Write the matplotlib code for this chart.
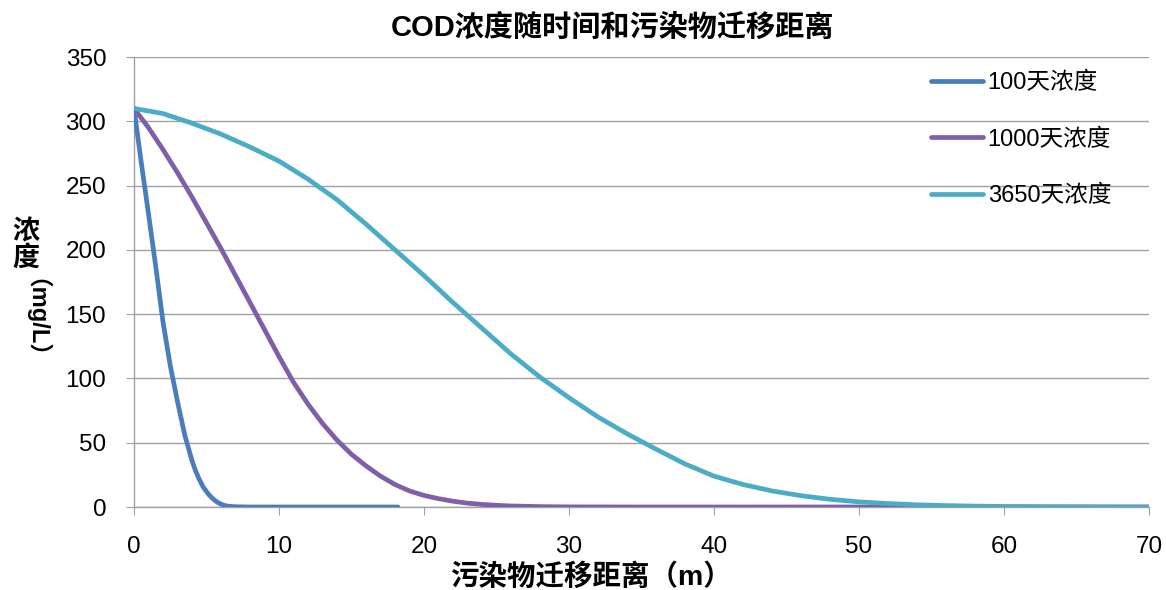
import matplotlib
matplotlib.use('Agg')
import matplotlib.pyplot as plt

plt.rcParams['font.family'] = ['Liberation Sans', 'Noto Sans CJK SC', 'DejaVu Sans']

# distances (m) and concentrations (mg/L)
x_100 = [0, 0.5, 1, 1.5, 2, 2.5, 3, 3.5, 4, 4.25, 4.5, 4.75, 5, 5.25, 5.5, 5.75, 6, 6.25,
         6.5, 7, 8, 10, 12, 14, 16, 18.2]
c_100 = [310, 268, 228, 187, 144, 110, 82, 56, 36, 28, 21.5, 16, 12, 8.5, 5.8, 3.7, 2.2,
         1.2, 0.6, 0.2, 0, 0, 0, 0, 0, 0]

x_1000 = [0, 1, 2, 3, 4, 5, 6, 7, 8, 9, 10, 11, 12, 13, 14, 15, 16, 17, 18, 19, 20,
          21, 22, 23, 24, 25, 26, 28, 30, 35, 40, 50, 60, 70]
c_1000 = [310, 295, 278, 260, 241, 221, 201, 180, 159, 138, 117, 97, 80, 65, 52, 41, 32,
          24, 17.5, 12.5, 9, 6.5, 4.5, 3, 2, 1.3, 0.8, 0.3, 0.1, 0, 0, 0, 0, 0]

x_3650 = [0, 2, 4, 6, 8, 10, 12, 14, 16, 18, 20, 22, 24, 26, 28, 30, 32, 34, 36, 38, 40,
          42, 44, 46, 48, 50, 52, 54, 56, 58, 60, 65, 70]
c_3650 = [310, 306, 298.5, 290, 280, 269, 255, 239, 220, 200, 180, 159, 139, 119, 101, 85,
          70, 57, 45, 33.5, 24, 17.5, 12.5, 8.8, 6, 4, 2.7, 1.7, 1.1, 0.7, 0.4, 0.1, 0]

labels = ['100天浓度', '1000天浓度', '3650天浓度']
colors = ['#4A7EBB', '#7F60A8', '#4BACC6']

W, H = 1166, 590
fig = plt.figure(figsize=(W / 100, H / 100), dpi=100)
ax = fig.add_axes([134 / W, 1 - 507 / H, (1149 - 134) / W, (507 - 57) / H])

for xs, ys, lab, col in zip([x_100, x_1000, x_3650], [c_100, c_1000, c_3650], labels, colors):
    ax.plot(xs, ys, color=col, lw=3.4, label=lab, solid_joinstyle='round',
            solid_capstyle='round', zorder=3)

ax.set_xlim(0, 70)
ax.set_ylim(0, 350)
ax.set_xticks(range(0, 71, 10))
ax.set_yticks(range(0, 351, 50))
ax.grid(axis='y', color='#A0A0A0', lw=1)
ax.set_axisbelow(True)
for s in ['top', 'right']:
    ax.spines[s].set_visible(False)
for s in ['left', 'bottom']:
    ax.spines[s].set_color('#A0A0A0')
    ax.spines[s].set_linewidth(1)
ax.tick_params(direction='out', length=6, color='#A0A0A0', labelsize=17.5,
               labelcolor='black')
ax.tick_params(axis='x', pad=15)
ax.tick_params(axis='y', pad=14)

ax.legend(loc='upper left', bbox_to_anchor=(931 / W, 1 - 72 / H),
          bbox_transform=fig.transFigure, frameon=False, fontsize=17,
          handlelength=2.2, handletextpad=0.2, labelspacing=1.45,
          borderpad=0, borderaxespad=0)

fig.text(612 / W, 1 - 28 / H, 'COD浓度随时间和污染物迁移距离', ha='center', va='center',
         fontsize=21, fontweight='bold')
fig.text(450 / W, 1 - 577 / H, '污染物迁移距离（m）', ha='left', va='center',
         fontsize=20.5, fontweight='bold')
fig.text(26 / W, 1 - 232 / H, '浓', ha='center', va='center', fontsize=19.5,
         fontweight='bold')
fig.text(26 / W, 1 - 259 / H, '度', ha='center', va='center', fontsize=19.5,
         fontweight='bold')
fig.text(24 / W, 1 - 330 / H, '（mg/L）', ha='center', va='center', fontsize=17,
         fontweight='bold', rotation=270)

fig.savefig('out.png', dpi=100)
